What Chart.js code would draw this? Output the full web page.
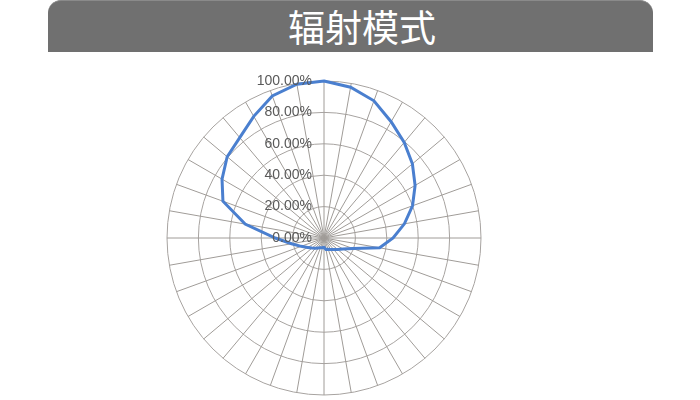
<!DOCTYPE html>
<html>
<head>
<meta charset="utf-8">
<script src="https://cdn.jsdelivr.net/npm/chart.js@4"></script>
<style>
  body { margin: 0; background: #fff; width: 700px; height: 400px; overflow: hidden; position: relative; }
  #title-bar {
    position: absolute; left: 48px; top: 0; width: 605px; height: 52px;
    background: #707070; border-radius: 13px 13px 0 0;
    border-top: 1px solid #8a8a8a; box-sizing: border-box;
  }
  #title {
    position: absolute; left: 288px; top: 3px; width: 148px;
    color: #fff; font-family: "Noto Sans CJK SC", sans-serif; font-size: 37px;
    line-height: 46px; white-space: nowrap;
  }
  #chart-box { position: absolute; left: 154px; top: 68px; width: 340px; height: 340px; }
</style>
</head>
<body>
<div id="title-bar"></div>
<div id="title">辐射模式</div>
<div id="chart-box"><canvas id="radarChart"></canvas></div>

<script>
// ===== DATA =====
// angles every 10 degrees, clockwise from the top
const angles = ['0°','10°','20°','30°','40°','50°','60°','70°','80°','90°','100°','110°',
  '120°','130°','140°','150°','160°','170°','180°','190°','200°','210°','220°','230°',
  '240°','250°','260°','270°','280°','290°','300°','310°','320°','330°','340°','350°'];
const intensity = [1.00, 0.975, 0.93, 0.855, 0.795, 0.735, 0.67, 0.60, 0.52, 0.44, 0.36, 0.195,
  0.14, 0.113, 0.095, 0.084, 0.077, 0.074, 0.06, 0.063, 0.066, 0.073, 0.085, 0.10,
  0.12, 0.155, 0.21, 0.31, 0.51, 0.685, 0.75, 0.805, 0.835, 0.895, 0.963, 0.995];
const tickValues = [0, 0.2, 0.4, 0.6, 0.8, 1.0];

// ===== TICK LABELS (left of the vertical axis, like the original) =====
const tickLabelPlugin = {
  id: 'tickLabels',
  afterDatasetsDraw(chart) {
    const scale = chart.scales.r;
    const ctx = chart.ctx;
    ctx.save();
    ctx.font = '14px "Liberation Sans", Arial, sans-serif';
    ctx.fillStyle = '#595959';
    ctx.textAlign = 'right';
    ctx.textBaseline = 'middle';
    tickValues.forEach(v => {
      const d = scale.getDistanceFromCenterForValue(v);
      ctx.fillText((v * 100).toFixed(2) + '%', scale.xCenter - 12, scale.yCenter - d);
    });
    ctx.restore();
  }
};

// ===== RENDER CHART =====
new Chart(document.getElementById('radarChart'), {
  type: 'radar',
  data: {
    labels: angles,
    datasets: [{
      data: intensity,
      borderColor: '#4a7fcf',
      borderWidth: 3,
      pointRadius: 0,
      fill: false,
      tension: 0
    }]
  },
  options: {
    responsive: true,
    maintainAspectRatio: false,
    animation: false,
    layout: { padding: 13 },
    plugins: { legend: { display: false }, tooltip: { enabled: false } },
    scales: {
      r: {
        min: 0,
        max: 1,
        ticks: { display: false, stepSize: 0.2 },
        pointLabels: { display: false },
        grid: { circular: true, color: '#a7a3a0', lineWidth: 1 },
        angleLines: { color: '#a09c98', lineWidth: 1 }
      }
    }
  },
  plugins: [tickLabelPlugin]
});
</script>
</body>
</html>
